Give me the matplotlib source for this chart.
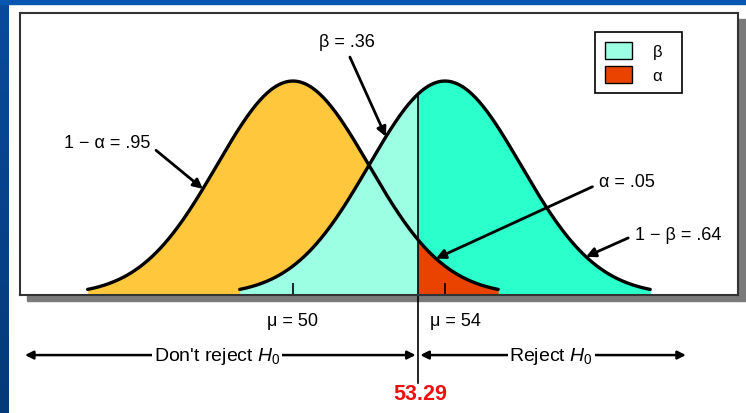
import numpy as np
import matplotlib.pyplot as plt
from matplotlib.patches import Patch, Rectangle
from matplotlib.colors import LinearSegmentedColormap

plt.rcParams['font.family'] = ['Liberation Sans', 'DejaVu Sans']
plt.rcParams['mathtext.fontset'] = 'custom'
plt.rcParams['mathtext.rm'] = 'Liberation Sans'
plt.rcParams['mathtext.it'] = 'Liberation Sans:italic'

# Two sampling distributions: null (mu = 50) and alternative (mu = 54)
mu0 = 50
mu1 = 54
sigma = 2
critical = 53.29
alpha_label = '.05'
beta_label = '.36'
power_label = '.64'
conf_label = '.95'

c_null = '#ffc83c'
c_beta = '#9cffe3'
c_power = '#2bffcc'
c_alpha = '#ea4300'


def pdf(x, mu):
    return np.exp(-0.5 * ((x - mu) / sigma) ** 2) / (sigma * np.sqrt(2 * np.pi))


fig = plt.figure(figsize=(7.46, 4.14), dpi=100)
fig.patch.set_facecolor('white')

# slide background strips (left and top)
bg = fig.add_axes([0, 0, 1, 1], zorder=-10)
bg.set_axis_off()
bg.set_xlim(0, 746)
bg.set_ylim(414, 0)
grad = np.linspace(0, 1, 100).reshape(-1, 1)
bg.imshow(grad, extent=(0, 9, 414, 5),
          cmap=LinearSegmentedColormap.from_list('b', ['#0a4a9c', '#053a78']), aspect='auto')
bg.add_patch(Rectangle((0, 0), 746, 5, color='#0757b0'))
bg.add_patch(Rectangle((0, 0), 9, 5, color='#0757b0'))
# drop shadow behind the plot frame
bg.add_patch(Rectangle((27, 20), 719, 282, color='#7a7a7a'))

ax = fig.add_axes([20 / 746, (414 - 296) / 414, 718 / 746, 282 / 414])
ax.set_facecolor('white')
ymax = pdf(mu0, mu0) * 1.318
ax.set_xlim(42.82, 61.71)
ax.set_ylim(0, ymax)
for s in ax.spines.values():
    s.set_linewidth(1.5)
    s.set_color('#333333')

x0 = np.linspace(mu0 - 5.4, mu0 + 5.4, 400)
x1 = np.linspace(mu1 - 5.4, mu1 + 5.4, 400)

# fills: null curve, then beta / power under the alternative, then alpha tail
ax.fill_between(x0, pdf(x0, mu0), color=c_null, lw=0)
xb = np.append(x1[x1 <= critical], critical)
ax.fill_between(xb, pdf(xb, mu1), color=c_beta, lw=0)
xp = np.insert(x1[x1 >= critical], 0, critical)
ax.fill_between(xp, pdf(xp, mu1), color=c_power, lw=0)
xa = np.insert(x0[x0 >= critical], 0, critical)
ax.fill_between(xa, pdf(xa, mu0), color=c_alpha, lw=0)

ax.plot(x0, pdf(x0, mu0), color='black', lw=2.4, solid_capstyle='round')
ax.plot(x1, pdf(x1, mu1), color='black', lw=2.4, solid_capstyle='round')

# critical value line, running below the frame
ax.plot([critical, critical], [-0.312 * ymax, pdf(critical, mu1)],
        color='black', lw=1.2, clip_on=False)

ax.set_xticks([mu0, mu1])
ax.set_xticklabels([])
ax.set_yticks([])
ax.tick_params(axis='x', direction='in', length=9, width=1.2)

tr = ax.get_xaxis_transform()
ax.text(mu0, -0.092, 'μ = %d' % mu0, transform=tr, ha='center', va='center', fontsize=13)
ax.text(mu1 + 0.27, -0.092, 'μ = %d' % mu1, transform=tr, ha='center', va='center', fontsize=13)
ax.text(critical + 0.05, -0.351, '%.2f' % critical, transform=tr, ha='center', va='center',
        fontsize=15.5, fontweight='bold', color='#ee1111')

# decision regions
arrow = dict(arrowstyle='<|-|>', lw=1.8, color='black', mutation_scale=12, shrinkA=0, shrinkB=0)
ax.annotate('', xy=(42.95, -0.213), xytext=(critical - 0.06, -0.213), xycoords=tr, textcoords=tr,
            arrowprops=arrow, annotation_clip=False)
ax.annotate('', xy=(60.34, -0.213), xytext=(critical + 0.06, -0.213), xycoords=tr, textcoords=tr,
            arrowprops=arrow, annotation_clip=False)
ax.text(48.0, -0.213, "Don't reject $H_0$", transform=tr, ha='center', va='center', fontsize=14,
        bbox=dict(facecolor='white', edgecolor='none', pad=1))
ax.text(56.8, -0.213, 'Reject $H_0$', transform=tr, ha='center', va='center', fontsize=14,
        bbox=dict(facecolor='white', edgecolor='none', pad=1))

# labelled areas
head = dict(arrowstyle='-|>', lw=2, color='black', mutation_scale=14, shrinkA=3, shrinkB=0)
px = lambda p: 50 + (p - 293) / 38
py = lambda p: (296 - p) / 282 * ymax

tx = px(203)
ax.annotate('1 − α = ' + conf_label, xy=(tx, pdf(tx, mu0)), xytext=(px(107), py(143)),
            ha='center', va='center', fontsize=13,
            arrowprops=dict(head, relpos=(1, 0.3)))
tx = px(386)
ax.annotate('β = ' + beta_label, xy=(tx, pdf(tx, mu1)), xytext=(px(347), py(43)),
            ha='center', va='center', fontsize=13,
            arrowprops=dict(head, relpos=(0.5, 0)))
tx = px(436)
ax.annotate('α = ' + alpha_label, xy=(tx, pdf(tx, mu0)), xytext=(px(627), py(183)),
            ha='center', va='center', fontsize=13,
            arrowprops=dict(head, relpos=(0, 0.4)))
tx = px(586)
ax.annotate('1 − β = ' + power_label, xy=(tx, pdf(tx, mu1)), xytext=(px(678), py(236)),
            ha='center', va='center', fontsize=13,
            arrowprops=dict(head, relpos=(0, 0.5)))

handles = [Patch(facecolor=c_beta, edgecolor='black', lw=1),
           Patch(facecolor=c_alpha, edgecolor='black', lw=1)]
leg = ax.legend(handles, ['β  ', 'α  '], loc='upper left',
                bbox_to_anchor=((595 - 20) / 718, (296 - 33) / 282),
                fontsize=12, handlelength=1.6, handleheight=1.15, labelspacing=0.45,
                handletextpad=1.3, borderpad=0.6, borderaxespad=0, fancybox=False,
                framealpha=1, edgecolor='black')
leg.get_frame().set_linewidth(1.2)

fig.savefig('out.png', dpi=100)
